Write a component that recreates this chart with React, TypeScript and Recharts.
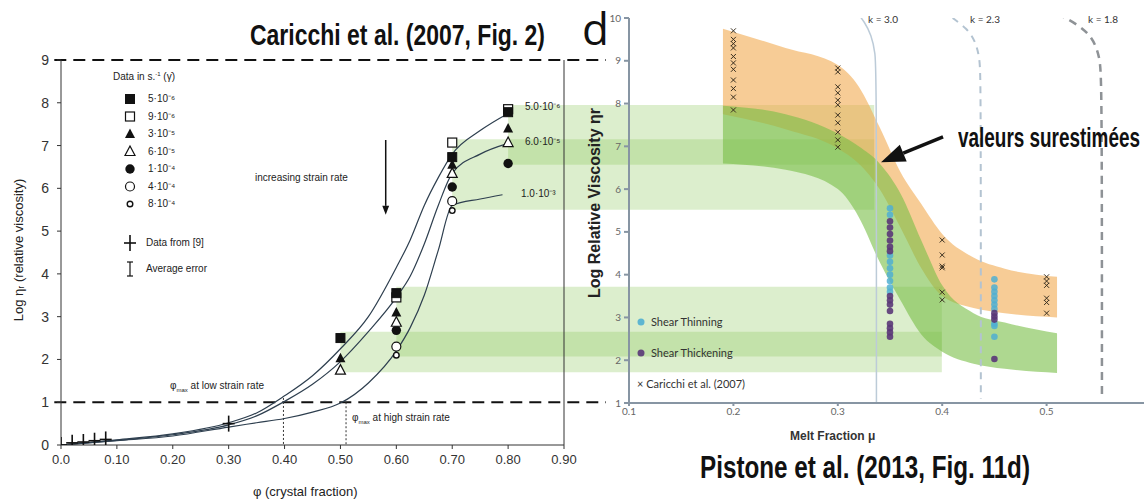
import React from "react";
import { ComposedChart, Line, Scatter, Area, XAxis, YAxis, ReferenceArea, ReferenceLine } from "recharts";

// ---------- left panel: Caricchi et al. (2007) ----------
const phiTicks = [0, 0.1, 0.2, 0.3, 0.4, 0.5, 0.6, 0.7, 0.8, 0.9];
const etaTicks = [0, 1, 2, 3, 4, 5, 6, 7, 8, 9];

const curvePhi = [0, 0.1, 0.2, 0.3, 0.35, 0.4, 0.45, 0.5, 0.55, 0.6, 0.625, 0.65, 0.675, 0.7, 0.75, 0.8];
const curveSlow = [0, 0.12, 0.26, 0.52, 0.75, 1.15, 1.62, 2.25, 3.0, 4.15, 4.8, 5.6, 6.25, 6.8, 7.35, 7.75];
const curveMid = [0, 0.11, 0.24, 0.47, 0.68, 1.02, 1.42, 1.95, 2.65, 3.45, 3.95, 4.7, 5.6, 6.35, 6.8, 7.05];
const curveFastPhi = [0, 0.1, 0.2, 0.3, 0.35, 0.4, 0.45, 0.5, 0.55, 0.6, 0.625, 0.65, 0.675, 0.7, 0.75, 0.79];
const curveFast = [0, 0.1, 0.21, 0.42, 0.52, 0.62, 0.77, 0.98, 1.45, 2.2, 2.75, 3.5, 4.55, 5.6, 5.75, 5.85];

const markerPhi = [0.5, 0.6, 0.7, 0.8];
const rate9e6 = [null, 3.45, 7.07, 7.85];
const rate5e6 = [2.5, 3.55, 6.73, 7.78];
const rate3e5 = [2.03, 3.1, 6.55, 7.4];
const rate6e5 = [1.75, 2.87, 6.35, 7.07];
const rate1e4 = [null, 2.68, 6.03, 6.58];
const rate4e4 = [null, 2.3, 5.7, null];
const rate8e4 = [null, 2.1, 5.48, null];

const refPhi = [0, 0.02, 0.04, 0.06, 0.08, 0.3];
const refEta = [0, 0.05, 0.07, 0.1, 0.13, 0.5];

// green strips (log viscosity ranges): start phi, end reaches into the right panel
const stripStart = [0.7, 0.8, 0.5, 0.6];
const stripFrom = [5.5, 6.55, 1.7, 2.07];
const stripTo = [7.15, 7.95, 2.65, 3.7];
const stripEnd = [1.455, 1.455, 1.576, 1.576];

// ---------- right panel: Pistone et al. (2013) ----------
const meltTicks = [0.1, 0.2, 0.3, 0.4, 0.5];
const viscTicks = [1, 2, 3, 4, 5, 6, 7, 8, 9, 10];

const bandMelt = [0.19, 0.25, 0.3, 0.32, 0.34, 0.36, 0.38, 0.4, 0.43, 0.46, 0.51];
const caricchiHigh = [9.75, 9.3, 8.9, 8.4, 7.45, 6.4, 5.65, 4.95, 4.4, 4.14, 3.95];
const caricchiLow = [7.75, 7.4, 6.95, 6.6, 6.0, 5.1, 4.15, 3.5, 3.22, 3.1, 3.0];
const pistoneHigh = [7.95, 7.75, 7.3, 7.0, 6.6, 5.9, 4.8, 3.75, 3.1, 2.88, 2.63];
const pistoneLow = [6.6, 6.45, 6.0, 5.35, 4.3, 3.4, 2.6, 2.2, 1.92, 1.8, 1.7];

const crossMelt = [0.2, 0.3, 0.4, 0.5];
const crossEta = [
  [9.7, 9.5, 9.4, 9.3, 9.1, 8.95, 8.8, 8.55, 8.35, 8.15, 7.85],
  [8.83, 8.74, 8.39, 8.25, 8.08, 7.97, 7.73, 7.55, 7.33, 7.15, 6.98],
  [4.81, 4.46, 4.2, 4.16, 3.59, 3.41],
  [3.95, 3.85, 3.75, 3.45, 3.35, 3.1],
];
const thinMelt = [0.35, 0.45];
const thinEta = [
  [5.55, 5.4, 4.45, 4.3, 4.15, 4.0, 3.85, 3.7, 3.6],
  [3.89, 3.7, 3.6, 3.5, 3.4, 3.3, 3.2, 2.85, 2.8, 2.55],
];
const thickEta = [
  [5.25, 5.1, 4.95, 4.8, 4.65, 4.55, 3.5, 3.4, 3.3, 3.15, 2.85, 2.75, 2.65, 2.55],
  [3.1, 3.02, 2.95, 2.03],
];

const k30Melt = [0.316, 0.326, 0.332, 0.336, 0.337, 0.337];
const k30Eta = [10.2, 9.9, 9.6, 9.2, 8.6, 1.0];
const k23Melt = [0.41, 0.424, 0.432, 0.436, 0.437, 0.437];
const k23Eta = [10.0, 9.75, 9.45, 9.05, 8.5, 1.1];
const k18Melt = [0.51, 0.53, 0.544, 0.551, 0.553, 0.553];
const k18Eta = [10.1, 9.85, 9.55, 9.1, 8.5, 1.1];

// ---------- helpers ----------
const zip = (xs: number[], ys: (number | null)[]) =>
  xs.map((x, i) => ({ x, y: ys[i] })).filter((d) => d.y != null);
const flat = (xs: number[], ys: number[][]) => xs.flatMap((x, i) => ys[i].map((y) => ({ x, y })));

const bandRows = bandMelt.map((x, i) => ({
  x,
  caricchi: [caricchiLow[i], caricchiHigh[i]],
  pistone: [pistoneLow[i], pistoneHigh[i]],
}));

type Kind = "sqFill" | "sqOpen" | "triFill" | "triOpen" | "cirFill" | "cirOpen" | "cirSmall" | "plus";
const INK = "#111";

function marker(kind: Kind, cx: number, cy: number) {
  switch (kind) {
    case "sqFill":
      return <rect x={cx - 4.5} y={cy - 4.5} width={9} height={9} fill={INK} stroke={INK} />;
    case "sqOpen":
      return <rect x={cx - 4.5} y={cy - 4.5} width={9} height={9} fill="#fff" stroke={INK} strokeWidth={1.2} />;
    case "triFill":
      return <polygon points={`${cx},${cy - 5.5} ${cx + 5},${cy + 4} ${cx - 5},${cy + 4}`} fill={INK} />;
    case "triOpen":
      return (
        <polygon
          points={`${cx},${cy - 5.5} ${cx + 5},${cy + 4} ${cx - 5},${cy + 4}`}
          fill="#fff"
          stroke={INK}
          strokeWidth={1.2}
        />
      );
    case "cirFill":
      return <circle cx={cx} cy={cy} r={4.7} fill={INK} />;
    case "cirOpen":
      return <circle cx={cx} cy={cy} r={4.5} fill="#fff" stroke={INK} strokeWidth={1.2} />;
    case "cirSmall":
      return <circle cx={cx} cy={cy} r={2.8} fill="#fff" stroke={INK} strokeWidth={1.4} />;
    default:
      return (
        <g stroke={INK} strokeWidth={1.6}>
          <line x1={cx - 6} x2={cx + 6} y1={cy} y2={cy} />
          <line x1={cx} x2={cx} y1={cy - 8} y2={cy + 8} />
        </g>
      );
  }
}
const shapeOf = (kind: Kind) => (p: any) => marker(kind, p.cx, p.cy);

const xMark = (p: any) => (
  <g stroke="#3a3020" strokeWidth={1}>
    <line x1={p.cx - 2.5} y1={p.cy - 2.5} x2={p.cx + 2.5} y2={p.cy + 2.5} />
    <line x1={p.cx - 2.5} y1={p.cy + 2.5} x2={p.cx + 2.5} y2={p.cy - 2.5} />
  </g>
);
const dot = (fill: string) => (p: any) => <circle cx={p.cx} cy={p.cy} r={3.3} fill={fill} />;

const arrow = (width: number, head: number) => (p: any) => {
  const { x1, y1, x2, y2 } = p;
  const a = Math.atan2(y2 - y1, x2 - x1);
  const bx = x2 - head * Math.cos(a);
  const by = y2 - head * Math.sin(a);
  const hw = head * 0.38;
  const nx = -Math.sin(a) * hw;
  const ny = Math.cos(a) * hw;
  return (
    <g>
      <line x1={x1} y1={y1} x2={bx} y2={by} stroke={INK} strokeWidth={width} />
      <polygon points={`${x2},${y2} ${bx + nx},${by + ny} ${bx - nx},${by - ny}`} fill={INK} />
    </g>
  );
};

const fmtPhi = (v: number) => (v === 0 ? "0.0" : v.toFixed(2));

const T = ({ x, y, size = 10, style, children }: any) => (
  <div
    style={{
      position: "absolute",
      left: x,
      top: y,
      fontSize: size,
      lineHeight: 1,
      whiteSpace: "nowrap",
      ...style,
    }}
  >
    {children}
  </div>
);

// condensed bold headings: squeeze a bold sans to the width seen in the figure
const HEAD_FAMILY = "'Liberation Sans', Arial, sans-serif";
function Head({ x, y, size, width, text }: { x: number; y: number; size: number; width: number; text: string }) {
  let s = 0.75;
  if (typeof document !== "undefined") {
    const ctx = document.createElement("canvas").getContext("2d");
    if (ctx) {
      ctx.font = `bold ${size}px ${HEAD_FAMILY}`;
      const w = ctx.measureText(text).width;
      if (w > 0) s = width / w;
    }
  }
  return (
    <div
      style={{
        position: "absolute",
        left: x,
        top: y,
        fontFamily: HEAD_FAMILY,
        fontWeight: 700,
        fontSize: size,
        lineHeight: 1,
        whiteSpace: "nowrap",
        color: "#111",
        transform: `scaleX(${s})`,
        transformOrigin: "left center",
      }}
    >
      {text}
    </div>
  );
}

const CAL = { fontFamily: "Lato, 'Open Sans', sans-serif", color: "#333" };

const legendLeft: [Kind, string][] = [
  ["sqFill", "5·10⁻⁶"],
  ["sqOpen", "9·10⁻⁶"],
  ["triFill", "3·10⁻⁵"],
  ["triOpen", "6·10⁻⁵"],
  ["cirFill", "1·10⁻⁴"],
  ["cirOpen", "4·10⁻⁴"],
  ["cirSmall", "8·10⁻⁴"],
];

export default function App() {
  const lineProps = { type: "monotone" as const, stroke: "#2e3f4f", strokeWidth: 1.2, dot: false, isAnimationActive: false };
  return (
    <div
      style={{
        position: "absolute",
        left: 0,
        top: 0,
        width: 1144,
        height: 502,
        overflow: "hidden",
        background: "#fff",
        fontFamily: "'Liberation Sans', Arial, sans-serif",
        color: "#222",
      }}
    >
      {/* left chart */}
      <div style={{ position: "absolute", left: 0, top: 0 }}>
        <ComposedChart width={1144} height={502} margin={{ top: 60, right: 570, bottom: 27, left: 21 }}>
          <XAxis
            dataKey="x"
            type="number"
            domain={[0, 0.9]}
            ticks={phiTicks}
            tickFormatter={fmtPhi}
            allowDataOverflow
            height={30}
            stroke="#333"
            tickSize={4}
            tickMargin={6}
            tick={{ fill: "#333", fontSize: 13 }}
          />
          <YAxis
            yAxisId="l"
            type="number"
            domain={[0, 9]}
            ticks={etaTicks}
            allowDataOverflow
            width={40}
            stroke="#333"
            tickSize={4}
            tickMargin={8}
            tick={{ fill: "#333", fontSize: 14 }}
          />
          <YAxis yAxisId="r" orientation="right" type="number" domain={[0, 9]} tick={false} tickLine={false} width={10} stroke="#333" />

          {stripStart.map((s, i) => (
            <ReferenceArea
              key={i}
              yAxisId="l"
              x1={s}
              x2={stripEnd[i]}
              y1={stripFrom[i]}
              y2={stripTo[i]}
              ifOverflow="visible"
              fill="#8cc85a"
              fillOpacity={0.3}
              stroke="none"
            />
          ))}

          <ReferenceLine yAxisId="l" segment={[{ x: -0.012, y: 9 }, { x: 0.975, y: 9 }]} ifOverflow="visible" stroke={INK} strokeWidth={2} strokeDasharray="12 7" />
          <ReferenceLine yAxisId="l" segment={[{ x: -0.012, y: 1 }, { x: 0.975, y: 1 }]} ifOverflow="visible" stroke={INK} strokeWidth={2} strokeDasharray="12 7" />
          <ReferenceLine yAxisId="l" segment={[{ x: 0.398, y: 1.1 }, { x: 0.398, y: 0 }]} stroke="#333" strokeDasharray="2 2" />
          <ReferenceLine yAxisId="l" segment={[{ x: 0.51, y: 1.0 }, { x: 0.51, y: 0 }]} stroke="#333" strokeDasharray="2 2" />
          <ReferenceLine yAxisId="l" segment={[{ x: 0.581, y: 7.13 }, { x: 0.581, y: 5.38 }]} shape={arrow(1.5, 9)} />

          <Line yAxisId="l" data={zip(curvePhi, curveSlow)} dataKey="y" {...lineProps} />
          <Line yAxisId="l" data={zip(curvePhi, curveMid)} dataKey="y" {...lineProps} />
          <Line yAxisId="l" data={zip(curveFastPhi, curveFast)} dataKey="y" {...lineProps} />

          <Scatter yAxisId="l" data={zip(markerPhi, rate9e6)} dataKey="y" shape={shapeOf("sqOpen")} isAnimationActive={false} />
          <Scatter yAxisId="l" data={zip(markerPhi, rate5e6)} dataKey="y" shape={shapeOf("sqFill")} isAnimationActive={false} />
          <Scatter yAxisId="l" data={zip(markerPhi, rate1e4)} dataKey="y" shape={shapeOf("cirFill")} isAnimationActive={false} />
          <Scatter yAxisId="l" data={zip(markerPhi, rate6e5)} dataKey="y" shape={shapeOf("triOpen")} isAnimationActive={false} />
          <Scatter yAxisId="l" data={zip(markerPhi, rate3e5)} dataKey="y" shape={shapeOf("triFill")} isAnimationActive={false} />
          <Scatter yAxisId="l" data={zip(markerPhi, rate8e4)} dataKey="y" shape={shapeOf("cirSmall")} isAnimationActive={false} />
          <Scatter yAxisId="l" data={zip(markerPhi, rate4e4)} dataKey="y" shape={shapeOf("cirOpen")} isAnimationActive={false} />
          <Scatter yAxisId="l" data={zip(refPhi, refEta)} dataKey="y" shape={shapeOf("plus")} isAnimationActive={false} />
        </ComposedChart>
      </div>

      {/* right chart */}
      <div style={{ position: "absolute", left: 0, top: 0 }}>
        <ComposedChart width={1160} height={502} data={bandRows} margin={{ top: 18, right: 9, bottom: 69, left: 589 }}>
          <XAxis
            dataKey="x"
            type="number"
            domain={[0.1, 0.6]}
            ticks={meltTicks}
            allowDataOverflow
            height={30}
            stroke="#8795a3"
            strokeWidth={2}
            tickSize={3}
            tickMargin={2}
            tick={{ fill: "#666", fontSize: 10, fontFamily: "Lato, sans-serif" }}
          />
          <YAxis
            type="number"
            domain={[1, 10]}
            ticks={viscTicks}
            allowDataOverflow
            width={40}
            stroke="#8795a3"
            strokeWidth={2}
            tickSize={5}
            tickMargin={3}
            tick={{ fill: "#666", fontSize: 10, fontFamily: "Lato, sans-serif" }}
          />
          <Area dataKey="caricchi" type="monotone" fill="#f2aa50" fillOpacity={0.6} stroke="none" isAnimationActive={false} />
          <Area dataKey="pistone" type="monotone" fill="#78be46" fillOpacity={0.6} stroke="none" isAnimationActive={false} />

          <Line data={zip(k30Melt, k30Eta)} dataKey="y" type="basis" stroke="#bccbd8" strokeWidth={1.5} dot={false} isAnimationActive={false} />
          <Line data={zip(k23Melt, k23Eta)} dataKey="y" type="basis" stroke="#b3c3d1" strokeWidth={2} strokeDasharray="7 6" dot={false} isAnimationActive={false} />
          <Line data={zip(k18Melt, k18Eta)} dataKey="y" type="basis" stroke="#8e9296" strokeWidth={2.5} strokeDasharray="8 6" dot={false} isAnimationActive={false} />

          <Scatter data={flat(crossMelt, crossEta)} dataKey="y" shape={xMark} isAnimationActive={false} />
          <Scatter data={flat(thinMelt, thinEta)} dataKey="y" shape={dot("rgba(80,175,210,0.85)")} isAnimationActive={false} />
          <Scatter data={flat(thinMelt, thickEta)} dataKey="y" shape={dot("rgba(90,55,120,0.9)")} isAnimationActive={false} />

          <ReferenceLine segment={[{ x: 0.4008, y: 7.22 }, { x: 0.3414, y: 6.63 }]} ifOverflow="visible" shape={arrow(3.5, 24)} />
        </ComposedChart>
      </div>

      {/* titles & annotations */}
      <Head x={250} y={21} size={29} width={295} text="Caricchi et al. (2007, Fig. 2)" />
      <T x={582} y={2} size={44} style={{ fontFamily: "'Open Sans', sans-serif", color: "#111", lineHeight: 1.2 }}>d</T>
      <Head x={958} y={125} size={27} width={182} text="valeurs surestimées" />
      <Head x={700} y={452} size={31} width={330} text="Pistone et al. (2013, Fig. 11d)" />

      <T x={255} y={173} size={10}>increasing strain rate</T>
      <T x={525} y={102} size={10}>5.0·10⁻⁶</T>
      <T x={525} y={137} size={10}>6.0·10⁻⁵</T>
      <T x={521} y={189} size={10}>1.0·10⁻³</T>
      <T x={170} y={381} size={10}>
        φ<sub style={{ fontSize: 6 }}>max</sub> at low strain rate
      </T>
      <T x={352} y={413} size={10}>
        φ<sub style={{ fontSize: 6 }}>max</sub> at high strain rate
      </T>
      <T x={253} y={485} size={13}>φ (crystal fraction)</T>
      <div
        style={{
          position: "absolute",
          left: 18,
          top: 250,
          transform: "translate(-50%,-50%) rotate(-90deg)",
          fontSize: 13,
          whiteSpace: "nowrap",
        }}
      >
        Log ηᵣ (relative viscosity)
      </div>

      {/* left legend */}
      <T x={113} y={71} size={10}>
        Data in s.<sup style={{ fontSize: 6 }}>-1</sup> (γ̇)
      </T>
      <svg style={{ position: "absolute", left: 0, top: 0 }} width={160} height={290}>
        {legendLeft.map(([k], i) => (
          <g key={i}>{marker(k, 130, 99 + i * 17.5)}</g>
        ))}
        {marker("plus", 130, 243)}
        <g stroke={INK} strokeWidth={1.2}>
          <line x1={130} x2={130} y1={262} y2={276} />
          <line x1={127} x2={133} y1={262} y2={262} />
          <line x1={127} x2={133} y1={276} y2={276} />
        </g>
      </svg>
      {legendLeft.map(([, label], i) => (
        <T key={i} x={148} y={94 + i * 17.5} size={10}>
          {label}
        </T>
      ))}
      <T x={146} y={238} size={10}>Data from [9]</T>
      <T x={146} y={264} size={10}>Average error</T>

      {/* right panel texts */}
      <T x={868} y={14} size={10} style={CAL}>k = 3.0</T>
      <T x={970} y={14} size={10} style={CAL}>k = 2.3</T>
      <T x={1088} y={14} size={10} style={CAL}>k = 1.8</T>
      <svg style={{ position: "absolute", left: 0, top: 0 }} width={700} height={400}>
        <circle cx={641} cy={322} r={3.5} fill="rgba(80,175,210,0.9)" />
        <circle cx={641} cy={353} r={3.5} fill="rgba(90,55,120,0.9)" />
      </svg>
      <T x={651} y={316} size={11} style={CAL}>Shear Thinning</T>
      <T x={651} y={347} size={11} style={CAL}>Shear Thickening</T>
      <T x={637} y={378} size={11} style={CAL}>× Caricchi et al. (2007)</T>
      <T x={790} y={430} size={12} style={{ fontWeight: 700, color: "#333" }}>Melt Fraction μ</T>
      <div
        style={{
          position: "absolute",
          left: 595,
          top: 203,
          transform: "translate(-50%,-50%) rotate(-90deg)",
          fontSize: 16,
          fontWeight: 700,
          whiteSpace: "nowrap",
          color: "#222",
        }}
      >
        Log Relative Viscosity ηr
      </div>
    </div>
  );
}
